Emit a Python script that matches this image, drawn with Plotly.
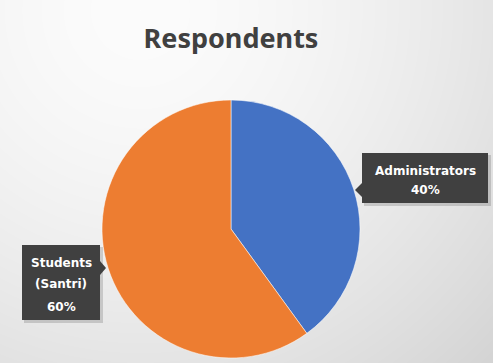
import plotly.graph_objects as go
import numpy as np
import zlib, struct, base64

labels = ["Administrators", "Students (Santri)"]
label_lines = [["Administrators"], ["Students", "(Santri)"]]
values = [40, 60]
colors = ["#4472C4", "#ED7D31"]
title_text = "Respondents"

W, H = 493, 363

# background gradient image
yy, xx = np.mgrid[0:H, 0:W]
d = np.sqrt((xx - 140.0) ** 2 + (yy - 10.0) ** 2)
d = d / d.max()
v = (252 - 40 * d ** 1.6).clip(0, 255).astype(np.uint8)
raw = b"".join(b"\x00" + np.stack([v[r], v[r], v[r]], axis=1).tobytes() for r in range(H))
def chunk(t, data):
    c = struct.pack(">I", len(data)) + t + data
    return c + struct.pack(">I", zlib.crc32(t + data) & 0xffffffff)
png = b"\x89PNG\r\n\x1a\n" + chunk(b"IHDR", struct.pack(">IIBBBBB", W, H, 8, 2, 0, 0, 0)) + chunk(b"IDAT", zlib.compress(raw)) + chunk(b"IEND", b"")
bg = "data:image/png;base64," + base64.b64encode(png).decode()

cx, cy, r = 231, 229, 129
fig = go.Figure(go.Pie(
    labels=labels, values=values, sort=False, direction="clockwise", rotation=0,
    marker=dict(colors=colors, line=dict(width=0.75, color="rgba(255,255,255,0.7)")),
    textinfo="none", hoverinfo="label+percent", showlegend=False,
    domain=dict(x=[(cx - r) / W, (cx + r) / W], y=[1 - (cy + r) / H, 1 - (cy - r) / H]),
))

def px(x): return x / W
def py(y): return 1 - y / H

shapes = []
# callout boxes: (x0, y0, x1, y1, pointer side, pointer y, text center x, line centers y)
boxes = [
    (362, 153, 488, 203, "left", 190, 425, [170.5, 189.5]),
    (22, 245, 100, 320, "right", 268, 61, [262.5, 284, 306.5]),
]
for (x0, y0, x1, y1, side, ty, tx, lys) in boxes:
    shapes.append(dict(type="rect", xref="paper", yref="paper", x0=px(x0 + 2), x1=px(x1 + 3), y0=py(y1 + 3), y1=py(y0 + 2),
                       fillcolor="rgba(0,0,0,0.15)", line=dict(width=0), layer="above"))
    shapes.append(dict(type="rect", xref="paper", yref="paper", x0=px(x0), x1=px(x1), y0=py(y1), y1=py(y0),
                       fillcolor="#404040", line=dict(width=0), layer="above"))
    if side == "left":
        path = f"M {px(x0)},{py(ty - 7)} L {px(x0 - 7)},{py(ty)} L {px(x0)},{py(ty + 7)} Z"
    else:
        path = f"M {px(x1)},{py(ty - 7)} L {px(x1 + 6)},{py(ty)} L {px(x1)},{py(ty + 7)} Z"
    shapes.append(dict(type="path", xref="paper", yref="paper", path=path, fillcolor="#404040", line=dict(width=0), layer="above"))

total = sum(values)
ann = []
for i, (x0, y0, x1, y1, side, ty, tx, lys) in enumerate(boxes):
    lines = label_lines[i] + [f"{round(values[i] / total * 100)}%"]
    for t, ly in zip(lines, lys):
        ann.append(dict(x=px(tx), y=py(ly), xref="paper", yref="paper", text=t, showarrow=False,
                        xanchor="center", yanchor="middle",
                        font=dict(family="DejaVu Sans", size=12, color="white", weight="bold")))

fig.update_layout(
    width=W, height=H, margin=dict(l=0, r=0, t=0, b=0),
    paper_bgcolor="white", plot_bgcolor="white",
    title=dict(text=title_text, x=231 / W, xanchor="center", y=1 - 39 / H, yanchor="middle",
               font=dict(family="Noto Sans", size=27, color="#404040", weight="bold")),
    images=[dict(source=bg, xref="paper", yref="paper", x=0, y=1, sizex=1, sizey=1, sizing="stretch", layer="below")],
    shapes=shapes, annotations=ann,
)
fig.write_html("out.html", config={"displayModeBar": False},
               post_script="document.body.style.margin='0';document.body.style.overflow='hidden';")
